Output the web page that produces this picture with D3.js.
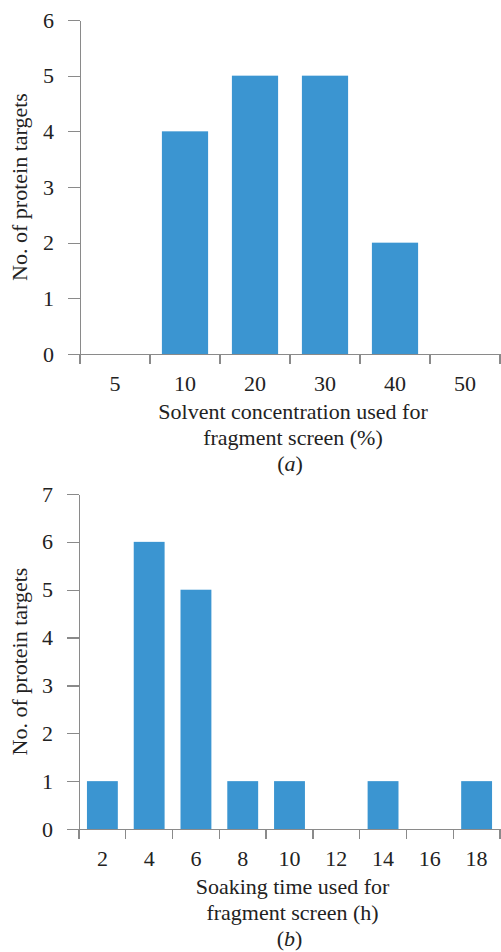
<!DOCTYPE html>
<html lang="en">
<head>
    <meta charset="UTF-8">
    <title>Fragment screen conditions</title>
    <script src="https://d3js.org/d3.v7.min.js"></script>
    <style>
        body {
            margin: 0;
            padding: 0;
            background: #fff;
        }
        svg {
            display: block;
            font-family: "Liberation Serif", "Times New Roman", serif;
        }
        .axis path,
        .axis line {
            stroke: #8a8a8a;
            stroke-width: 1.3px;
            shape-rendering: crispEdges;
        }
        .axis text {
            font-family: "Liberation Serif", "Times New Roman", serif;
            font-size: 22px;
            fill: #222;
        }
        .bar {
            fill: #3b95d1;
        }
        .label {
            font-size: 22px;
            fill: #222;
            text-anchor: middle;
        }
    </style>
</head>
<body>
    <svg width="501" height="952"></svg>

    <script>
        // (a) solvent concentration
        const solventCats = ["5", "10", "20", "30", "40", "50"];
        const solventCounts = [0, 4, 5, 5, 2, 0];
        const solventTicks = [0, 1, 2, 3, 4, 5, 6];

        // (b) soaking time
        const soakCats = ["2", "4", "6", "8", "10", "12", "14", "16", "18"];
        const soakCounts = [1, 6, 5, 1, 1, 0, 1, 0, 1];
        const soakTicks = [0, 1, 2, 3, 4, 5, 6, 7];

        const svg = d3.select("svg");

        function drawPanel(cfg) {
            const g = svg.append("g");

            const x = d3.scaleBand()
                .domain(cfg.cats)
                .range([cfg.left, cfg.right])
                .paddingInner(0.34)
                .paddingOuter(0.17);

            const y = d3.scaleLinear()
                .domain([0, d3.max(cfg.ticks)])
                .range([cfg.bottom, cfg.top]);

            const data = cfg.cats.map((c, i) => ({ cat: c, value: cfg.counts[i] }));

            g.selectAll(".bar")
                .data(data.filter(d => d.value > 0))
                .enter()
                .append("rect")
                .attr("class", "bar")
                .attr("x", d => x(d.cat))
                .attr("y", d => y(d.value))
                .attr("width", x.bandwidth())
                .attr("height", d => y(0) - y(d.value));

            // y axis
            g.append("g")
                .attr("class", "axis")
                .attr("transform", `translate(${cfg.left},0)`)
                .call(d3.axisLeft(y)
                    .tickValues(cfg.ticks)
                    .tickFormat(d3.format("d"))
                    .tickSize(12)
                    .tickPadding(14)
                    .tickSizeOuter(0));

            // x axis labels
            const xAxis = g.append("g")
                .attr("class", "axis")
                .attr("transform", `translate(0,${cfg.bottom})`)
                .call(d3.axisBottom(x).tickSize(0).tickPadding(21).tickSizeOuter(0));

            // boundary ticks between categories
            const half = (x.step() - x.bandwidth()) / 2;
            const bounds = cfg.cats.map(c => x(c) - half)
                .concat([x(cfg.cats[cfg.cats.length - 1]) + x.bandwidth() + half]);
            xAxis.selectAll(".bound")
                .data(bounds)
                .enter()
                .append("line")
                .attr("class", "bound")
                .attr("x1", d => d)
                .attr("x2", d => d)
                .attr("y1", 0)
                .attr("y2", 10);

            // y label
            g.append("text")
                .attr("class", "label")
                .attr("transform", `translate(27,${(cfg.top + cfg.bottom) / 2}) rotate(-90)`)
                .text("No. of protein targets");

            const cx = (cfg.left + cfg.right) / 2 + 3;
            g.append("text")
                .attr("class", "label")
                .attr("x", cx)
                .attr("y", cfg.bottom + 65)
                .text(cfg.xlabel[0]);
            g.append("text")
                .attr("class", "label")
                .attr("x", cx)
                .attr("y", cfg.bottom + 91)
                .text(cfg.xlabel[1]);

            const tag = g.append("text")
                .attr("class", "label")
                .attr("x", cx - 3)
                .attr("y", cfg.bottom + 117);
            tag.append("tspan").text("(");
            tag.append("tspan").attr("font-style", "italic").text(cfg.tag);
            tag.append("tspan").text(")");
        }

        drawPanel({
            cats: solventCats,
            counts: solventCounts,
            ticks: solventTicks,
            left: 80, right: 500, top: 20, bottom: 354,
            xlabel: ["Solvent concentration used for", "fragment screen (%)"],
            tag: "a"
        });

        drawPanel({
            cats: soakCats,
            counts: soakCounts,
            ticks: soakTicks,
            left: 79, right: 500, top: 494, bottom: 829,
            xlabel: ["Soaking time used for", "fragment screen (h)"],
            tag: "b"
        });
    </script>
</body>
</html>
